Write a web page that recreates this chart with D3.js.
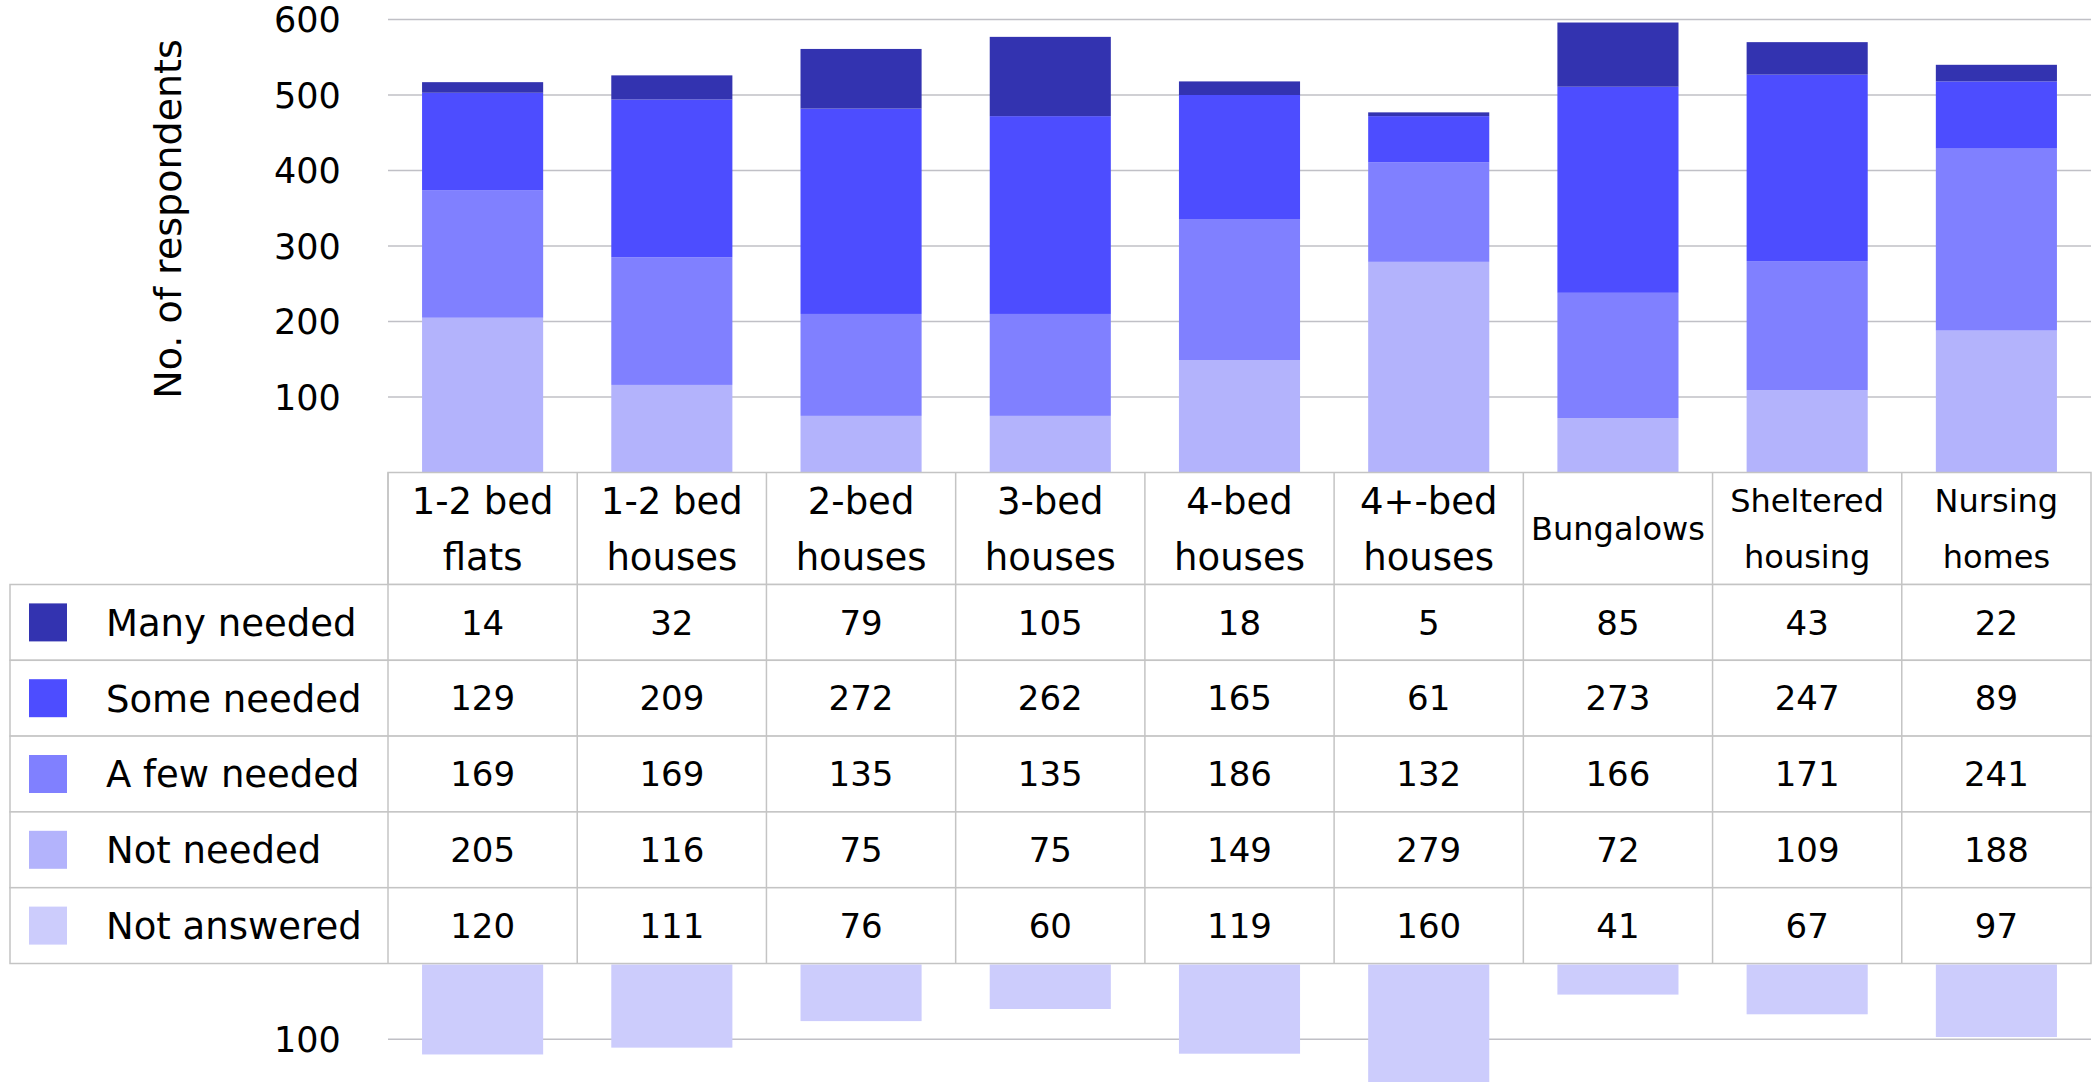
<!DOCTYPE html>
<html>
<head>
<meta charset="utf-8">
<script src="https://cdn.jsdelivr.net/npm/d3@7"></script>
<style>
body{margin:0;background:#fff;overflow:hidden;}
text{font-family:"DejaVu Sans",sans-serif;fill:#000;}
</style>
</head>
<body>
<script>
// chart data
var categories=["1-2 bed\nflats","1-2 bed\nhouses","2-bed\nhouses","3-bed\nhouses","4-bed\nhouses","4+-bed\nhouses","Bungalows","Sheltered\nhousing","Nursing\nhomes"];
var seriesNames=["Many needed","Some needed","A few needed","Not needed","Not answered"];
var manyNeeded=[14,32,79,105,18,5,85,43,22];
var someNeeded=[129,209,272,262,165,61,273,247,89];
var fewNeeded=[169,169,135,135,186,132,166,171,241];
var notNeeded=[205,116,75,75,149,279,72,109,188];
var notAnswered=[120,111,76,60,119,160,41,67,97];
var upperTicks=[100,200,300,400,500,600];
var lowerTicks=[100];
var colors=["#3333b0","#4d4dff","#8080ff","#b3b3fc","#ccccfc"];
// headers the original squeezed into a smaller size
var compactHeaders=["Bungalows","Sheltered\nhousing","Nursing\nhomes"];

var width=2096,height=1082;
var plotLeft=388,plotRight=2091,baseY=472.5;
var headerH=112,rowH=75.8,tableLeft=10;
var tableTop=baseY,bodyTop=baseY+headerH,tableBottom=bodyTop+5*rowH;
var gridColor="#c0c0c6",cellColor="#c4c4c4";

var values=[manyNeeded,someNeeded,fewNeeded,notNeeded,notAnswered];
var rows=categories.map(function(c,i){
    var r={cat:c};
    seriesNames.forEach(function(s,k){ r[s]=values[k][i]; });
    return r;
});

var svg=d3.select("body").append("svg")
    .attr("width",width)
    .attr("height",height);

var x=d3.scaleBand()
    .domain(categories)
    .range([plotLeft,plotRight])
    .paddingInner(0.36)
    .paddingOuter(0.18);
var y=d3.scaleLinear().domain([0,600]).range([baseY,19.5]);
var yLow=d3.scaleLinear().domain([0,100]).range([tableBottom,tableBottom+75.8]);

// grid lines (upper)
svg.append("g").selectAll("line")
    .data(upperTicks).enter().append("line")
    .attr("x1",plotLeft).attr("x2",plotRight)
    .attr("y1",function(d){return y(d);})
    .attr("y2",function(d){return y(d);})
    .attr("stroke",gridColor).attr("stroke-width",1.5);
svg.append("g").selectAll("text")
    .data(upperTicks).enter().append("text")
    .attr("x",274).attr("y",function(d){return y(d);})
    .attr("dy","0.36em")
    .style("font-size","35px")
    .text(function(d){return d;});

// stacked bars
var stackKeys=["Not needed","A few needed","Some needed","Many needed"];
var stacked=d3.stack().keys(stackKeys)(rows);
svg.append("g").selectAll("g")
    .data(stacked).enter().append("g")
    .attr("fill",function(d){return colors[seriesNames.indexOf(d.key)];})
    .selectAll("rect")
    .data(function(d){return d;}).enter().append("rect")
    .attr("x",function(d){return x(d.data.cat);})
    .attr("width",x.bandwidth())
    .attr("y",function(d){return y(d[1]);})
    .attr("height",function(d){return y(d[0])-y(d[1]);});

// lower part: not answered hanging below the table
svg.append("g").selectAll("line")
    .data(lowerTicks).enter().append("line")
    .attr("x1",plotLeft).attr("x2",plotRight)
    .attr("y1",function(d){return yLow(d);})
    .attr("y2",function(d){return yLow(d);})
    .attr("stroke",gridColor).attr("stroke-width",1.5);
svg.append("g").selectAll("text")
    .data(lowerTicks).enter().append("text")
    .attr("x",274).attr("y",function(d){return yLow(d);})
    .attr("dy","0.36em")
    .style("font-size","35px")
    .text(function(d){return d;});
svg.append("g").selectAll("rect")
    .data(rows).enter().append("rect")
    .attr("x",function(d){return x(d.cat);})
    .attr("width",x.bandwidth())
    .attr("y",yLow(0)+1)
    .attr("height",function(d){return yLow(d["Not answered"])-yLow(0)-1;})
    .attr("fill",colors[4]);

// axis title
svg.append("text")
    .attr("transform","translate(167,"+(219)+") rotate(-90)")
    .attr("text-anchor","middle")
    .attr("dy","0.36em")
    .style("font-size","38px")
    .text("No. of respondents");

// table
var table=svg.append("g");
table.append("rect")
    .attr("x",plotLeft).attr("y",tableTop)
    .attr("width",plotRight-plotLeft).attr("height",headerH)
    .attr("fill","#fff").attr("stroke",cellColor).attr("stroke-width",1.5);
table.append("g").selectAll("rect")
    .data(seriesNames).enter().append("rect")
    .attr("x",tableLeft).attr("y",function(d,i){return bodyTop+i*rowH;})
    .attr("width",plotRight-tableLeft).attr("height",rowH)
    .attr("fill","#fff").attr("stroke",cellColor).attr("stroke-width",1.5);
var step=x.step();
table.append("g").selectAll("line")
    .data(categories).enter().append("line")
    .attr("x1",function(d){return x(d)-x.paddingOuter()*step;})
    .attr("x2",function(d){return x(d)-x.paddingOuter()*step;})
    .attr("y1",tableTop).attr("y2",tableBottom)
    .attr("stroke",cellColor).attr("stroke-width",1.5);

// header labels
var heads=table.append("g").selectAll("text")
    .data(categories).enter().append("text")
    .attr("text-anchor","middle")
    .style("font-size",function(d){return compactHeaders.indexOf(d)>=0?"32px":"37px";});
heads.each(function(c){
    var lines=c.split("\n"),t=d3.select(this);
    var cx=x(c)+x.bandwidth()/2;
    lines.forEach(function(l,i){
        var cy=lines.length==1?tableTop+headerH/2:tableTop+headerH*(i==0?0.25:0.75);
        t.append("tspan").attr("x",cx).attr("y",cy).attr("dy","0.36em").text(l);
    });
});

// legend rows
var legend=table.append("g").selectAll("g")
    .data(seriesNames).enter().append("g")
    .attr("transform",function(d,i){return "translate(0,"+(bodyTop+i*rowH+rowH/2)+")";});
legend.append("rect")
    .attr("x",29).attr("y",-19).attr("width",38).attr("height",38)
    .attr("fill",function(d,i){return colors[i];});
legend.append("text")
    .attr("x",106).attr("dy","0.36em")
    .style("font-size","37px")
    .text(function(d){return d;});

// values
seriesNames.forEach(function(s,k){
    table.append("g").selectAll("text")
        .data(rows).enter().append("text")
        .attr("x",function(d){return x(d.cat)+x.bandwidth()/2;})
        .attr("y",bodyTop+k*rowH+rowH/2)
        .attr("dy","0.36em")
        .attr("text-anchor","middle")
        .style("font-size","34px")
        .text(function(d){return d[s];});
});
</script>
</body>
</html>
